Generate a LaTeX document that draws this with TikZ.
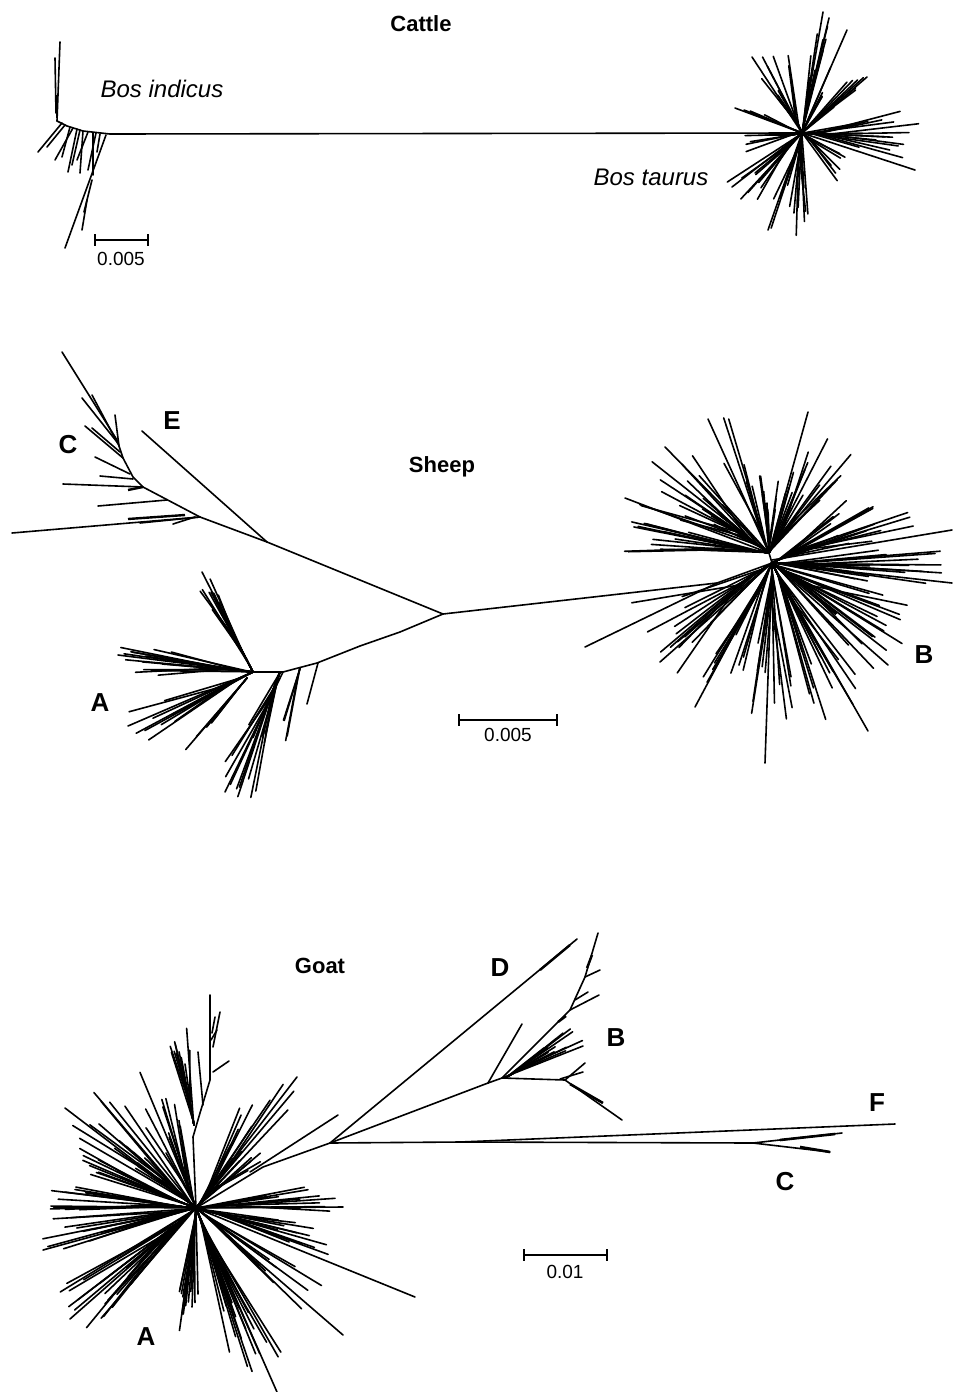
\documentclass[tikz,border=0pt]{standalone}
\usepackage{fontspec}
\setmainfont{Liberation Sans}
\tikzset{
  br/.style={line width=1.6pt, line cap=round, line join=round},
  sbar/.style={line width=1.9pt},
  lab/.style={font=\fontsize{26}{26}\selectfont\bfseries, inner sep=0pt},
  ttl/.style={font=\fontsize{22}{22}\selectfont\bfseries, inner sep=0pt},
  spc/.style={font=\fontsize{24}{24}\selectfont\itshape, inner sep=0pt},
  num/.style={font=\fontsize{19}{19}\selectfont, inner sep=0pt}
}
% fan of leaves: cx cy a1 a2 n lmin lmax seed stemfrac
\newcommand\fan[9]{%
  \pgfmathsetseed{#8}%
  \pgfmathsetmacro\fmid{(#3+#4)/2}%
  \foreach \k in {1,...,#5}{%
    \pgfmathsetmacro\fang{#3+(#4-#3)*rnd}%
    \pgfmathsetmacro\flen{#6+(#7-#6)*rnd}%
    \pgfmathsetmacro\fst{#9*\flen*rnd}%
    \pgfmathsetmacro\fxa{#1+\fst*cos(\fmid)}%
    \pgfmathsetmacro\fya{#2+\fst*sin(\fmid)}%
    \pgfmathsetmacro\fxb{#1+\flen*cos(\fang)}%
    \pgfmathsetmacro\fyb{#2+\flen*sin(\fang)}%
    \draw[br] (#1,#2) -- (\fxa,\fya) -- (\fxb,\fyb);
  }%
}
\begin{document}
\begin{tikzpicture}[x=1pt,y=-1pt]
\useasboundingbox[fill=white] (0,0) rectangle (953,1392);

% ================= CATTLE =================
\node[ttl] (tcattle) at (421,24) {Cattle};
\node[spc] (tind) at (162,89) {Bos indicus};
\node[spc] (ttau) at (651,177) {Bos taurus};
% Bos indicus
\draw[br] (60,42) -- (57,121);
\draw[br] (55,58) -- (56,113);
\draw[line width=2.6pt] (57,95) -- (57,118);
\draw[br] (57,121) -- (67,126) -- (83,131) -- (110,134) -- (802,133);
\draw[br] (62,123) -- (38,152);
\draw[br] (65,125) -- (47,147);
\draw[br] (70,127) -- (62,157);
\draw[br] (73,128) -- (55,160);
\draw[br] (77,129) -- (68,172);
\draw[br] (80,130) -- (72,165);
\draw[br] (83,131) -- (80,173);
\draw[br] (88,132) -- (77,160);
\draw[br] (93,133) -- (93,175);
\draw[br] (96,133) -- (88,170);
\draw[br] (100,134) -- (97,152);
\draw[br] (106,135) -- (65,248);
\draw[br] (92,180) -- (84,212);
\draw[br] (87,200) -- (82,230);
% Bos taurus star
\fan{802}{133}{-86}{-72}{10}{50}{122}{11}{0.3}
\fan{802}{133}{-70}{-60}{4}{40}{112}{12}{0.3}
\fan{802}{133}{-128}{-100}{10}{40}{91}{13}{0.3}
\fan{802}{133}{-55}{-35}{8}{40}{86}{14}{0.3}
\fan{802}{133}{-165}{-150}{3}{35}{71}{15}{0.3}
\fan{802}{133}{-15}{20}{16}{50}{119}{16}{0.3}
\fan{802}{133}{25}{55}{7}{40}{75}{17}{0.3}
\fan{802}{133}{82}{115}{12}{50}{103}{18}{0.3}
\fan{802}{133}{120}{150}{9}{40}{90}{19}{0.3}
\fan{802}{133}{160}{178}{5}{35}{70}{20}{0.3}
\draw[br] (802,133) -- (823,12);
\draw[br] (802,133) -- (847,30);
\draw[br] (802,133) -- (752,57);
\draw[br] (802,133) -- (735,108);
\draw[br] (802,133) -- (915,170);
\draw[br] (802,133) -- (768,230);
\draw[br] (802,133) -- (732,187);
\draw[br] (802,133) -- (867,77);
% scale
\coordinate (cs1) at (95,240); \coordinate (cs2) at (148,240);
\draw[sbar] (cs1) -- (cs2);
\draw[sbar] (95,234) -- (95,246);
\draw[sbar] (148,234) -- (148,246);
\node[num] (cnum) at (121,259) {0.005};

% ================= SHEEP =================
\node[ttl] (tsheep) at (442,467) {Sheep};
\node[lab] (sC) at (68,445) {C};
\node[lab] (sE) at (172,421) {E};
\node[lab] (sA) at (100,703) {A};
\node[lab] (sB) at (924,655) {B};
% C/E clade
\draw[br] (443,614) -- (267,542) -- (200,517) -- (143,487) -- (133,477) -- (123,458) -- (117,440) -- (62,352);
\draw[br] (267,542) -- (142,431);
\draw[br] (200,517) -- (12,533);
\draw[line width=2.4pt] (185,515) -- (128,519);
\draw[br] (200,517) -- (140,523);
\draw[br] (195,517) -- (173,524);
\draw[br] (167,500) -- (98,506);
\draw[br] (143,487) -- (63,484);
\draw[br] (133,479) -- (100,476);
\draw[line width=2.4pt] (143,487) -- (128,490);
\draw[br] (130,474) -- (95,457);
\draw[br] (123,458) -- (85,426);
\draw[br] (120,452) -- (92,428);
\draw[br] (117,442) -- (82,398);
\draw[br] (118,444) -- (92,395);
\draw[br] (119,446) -- (115,415);
% A clade
\draw[br] (443,614) -- (400,632) -- (360,646) -- (317,663) -- (283,672) -- (253,672);
\fan{253}{672}{-125}{-110}{12}{60}{112}{61}{0.6}
\fan{253}{672}{-182}{-165}{14}{80}{136}{62}{0.3}
\fan{253}{672}{145}{165}{9}{90}{136}{63}{0.3}
\fan{247}{678}{125}{135}{5}{50}{95}{64}{0.3}
\fan{280}{672}{100}{122}{16}{60}{133}{65}{0.3}
\fan{300}{668}{100}{108}{4}{50}{74}{66}{0.2}
\draw[br] (253,672) -- (202,572);
\draw[br] (253,672) -- (118,655);
\draw[br] (253,672) -- (128,726);
\draw[br] (283,672) -- (225,792);
\draw[br] (318,663) -- (307,704);
% B clade
\draw[br] (443,614) -- (717,583) -- (772,563) -- (769,553);
\draw[br] (717,583) -- (585,647);
\fan{769}{553}{-120}{-100}{6}{60}{150}{21}{0.3}
\fan{769}{553}{-98}{-80}{12}{35}{90}{22}{0.2}
\fan{769}{553}{-160}{-128}{20}{60}{150}{23}{0.3}
\fan{769}{553}{-180}{-162}{14}{80}{150}{24}{0.3}
\fan{769}{553}{-75}{-45}{16}{60}{130}{25}{0.3}
\fan{772}{563}{-40}{-12}{16}{70}{150}{26}{0.3}
\fan{772}{563}{-8}{12}{16}{80}{170}{27}{0.3}
\fan{772}{563}{15}{48}{20}{80}{155}{28}{0.3}
\fan{772}{563}{52}{75}{14}{80}{170}{29}{0.3}
\fan{772}{563}{80}{100}{12}{80}{160}{30}{0.3}
\fan{772}{563}{105}{125}{12}{80}{150}{31}{0.3}
\fan{772}{563}{130}{165}{14}{80}{150}{32}{0.3}
\draw[br] (769,553) -- (708,419);
\draw[br] (769,553) -- (808,412);
\draw[br] (769,553) -- (665,447);
\draw[br] (769,553) -- (625,498);
\draw[br] (772,560) -- (952,530);
\draw[br] (772,563) -- (952,583);
\draw[br] (772,563) -- (868,731);
\draw[br] (772,563) -- (765,763);
\draw[br] (772,563) -- (695,707);
\draw[br] (772,563) -- (660,662);
\draw[br] (772,563) -- (888,665);
% scale
\draw[sbar] (459,720) -- (557,720);
\draw[sbar] (459,714) -- (459,726);
\draw[sbar] (557,714) -- (557,726);
\node[num] (snum) at (508,735) {0.005};

% ================= GOAT =================
\node[ttl] (tgoat) at (320,966) {Goat};
\node[lab] (gD) at (500,968) {D};
\node[lab] (gB) at (616,1038) {B};
\node[lab] (gF) at (877,1103) {F};
\node[lab] (gC) at (785,1182) {C};
\node[lab] (gA) at (146,1337) {A};
% A star
\fan{196}{1208}{-122}{-100}{14}{60}{150}{41}{0.3}
\fan{196}{1208}{-150}{-124}{16}{70}{164}{42}{0.3}
\fan{196}{1208}{-166}{-152}{10}{80}{142}{43}{0.3}
\fan{196}{1208}{-182}{-168}{14}{90}{150}{44}{0.3}
\fan{196}{1208}{160}{176}{12}{90}{158}{45}{0.3}
\fan{196}{1208}{130}{150}{20}{90}{165}{46}{0.3}
\fan{196}{1208}{86}{102}{14}{70}{130}{47}{0.3}
\fan{196}{1208}{58}{78}{20}{100}{180}{48}{0.3}
\fan{196}{1208}{30}{45}{9}{80}{160}{49}{0.3}
\fan{196}{1208}{8}{22}{12}{80}{143}{50}{0.3}
\fan{196}{1208}{-12}{2}{12}{70}{148}{51}{0.3}
\fan{196}{1208}{-68}{-35}{18}{60}{165}{52}{0.3}
\draw[br] (196,1208) -- (415,1297);
\draw[br] (196,1208) -- (343,1335);
\draw[br] (196,1208) -- (277,1392);
\draw[br] (196,1208) -- (343,1207);
\draw[br] (196,1208) -- (65,1108);
\draw[br] (196,1208) -- (43,1250);
\draw[br] (196,1208) -- (70,1319);
\draw[br] (196,1208) -- (297,1077);
\draw[br] (250,1172) -- (338,1115);
% spine up
\draw[br] (196,1208) -- (193,1137) -- (200,1113) -- (210,1080) -- (210,995);
\fan{194}{1125}{-108}{-93}{12}{50}{100}{71}{0.3}
\draw[br] (203,1105) -- (198,1052);
\draw[br] (213,1072) -- (229,1061);
\draw[br] (212,1033) -- (215,1017);
\draw[br] (213,1047) -- (220,1012);
\draw[br] (211,1040) -- (217,1030);
% right part
\draw[br] (196,1208) -- (263,1167) -- (330,1143);
\draw[br] (330,1143) -- (577,939);
\draw[line width=2.4pt] (540,970) -- (570,945);
\draw[br] (330,1143) -- (488,1083);
\draw[br] (488,1083) -- (522,1024);
\draw[br] (488,1083) -- (502,1078) -- (557,1023) -- (570,1010) -- (585,977) -- (598,933);
\draw[br] (585,977) -- (600,970);
\draw[br] (570,1010) -- (599,995);
\draw[br] (575,1000) -- (588,992);
\draw[line width=2.4pt] (558,1022) -- (566,1016);
\draw[line width=2.4pt] (587,968) -- (592,955);
\fan{505}{1078}{-40}{-20}{12}{30}{87}{72}{0.3}
\draw[br] (502,1078) -- (583,1046);
\draw[br] (502,1078) -- (565,1080);
\draw[br] (565,1080) -- (585,1063);
\draw[br] (560,1079) -- (583,1072);
\draw[br] (565,1080) -- (622,1120);
\draw[line width=2.6pt] (570,1084) -- (603,1103);
% F and C
\draw[br] (330,1143) -- (460,1142) -- (895,1124);
\draw[br] (460,1142) -- (753,1143) -- (842,1133);
\draw[br] (753,1143) -- (830,1152);
\draw[line width=2.6pt] (780,1140) -- (835,1134);
\draw[line width=2.6pt] (800,1147) -- (830,1152);
% scale
\draw[sbar] (524,1255) -- (607,1255);
\draw[sbar] (524,1249) -- (524,1261);
\draw[sbar] (607,1249) -- (607,1261);
\node[num] (gnum) at (565,1272) {0.01};
\end{tikzpicture}
\end{document}
